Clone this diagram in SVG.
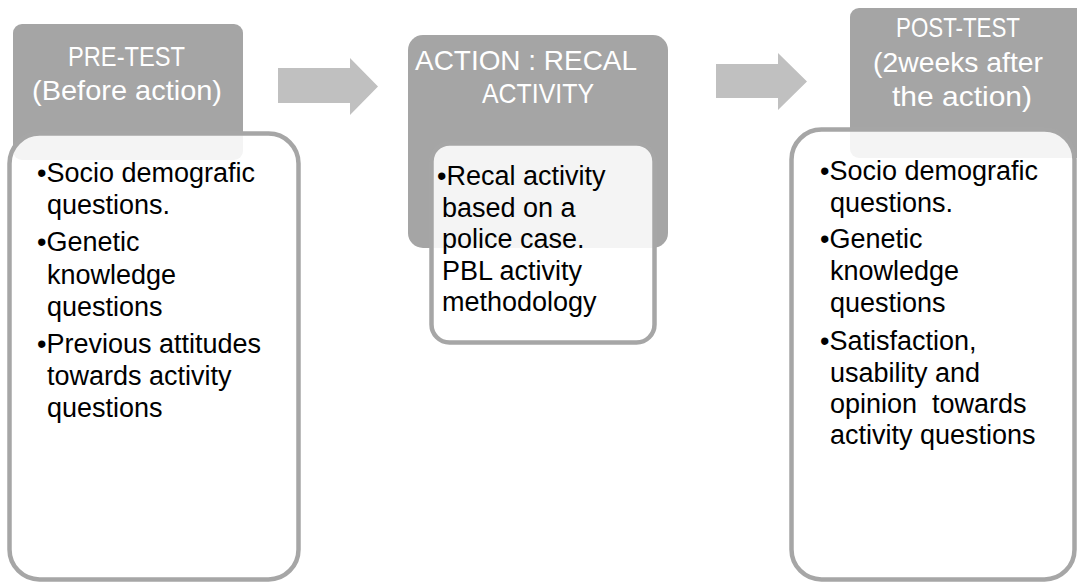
<svg xmlns="http://www.w3.org/2000/svg" width="1077" height="583" viewBox="0 0 1077 583">
  <defs>
    <style>
      .hdr { fill: #a5a5a5; }
      .body { fill: #ffffff; fill-opacity: 0.88; stroke: #a6a6a6; stroke-width: 4.5; }
      .htxt { font-family: "Liberation Sans", Arial, sans-serif; font-size: 28px; fill: #ffffff; }
      .btxt { font-family: "Liberation Sans", Arial, sans-serif; font-size: 27px; fill: #000000; }
      .arrow { fill: #c0c0c0; }
    </style>
  </defs>
  <rect width="1077" height="583" fill="#ffffff"/>

  <!-- flow arrows between stages -->
  <g id="connectors">
    <path class="arrow" d="M278,68 H350 V58 L378,86.5 L350,115 V103 H278 Z"/>
    <path class="arrow" d="M716,64 H778 V53 L807,81.5 L778,110 V98 H716 Z"/>
  </g>

  <!-- stage 1 -->
  <g id="pre-test">
    <rect class="hdr" x="13" y="24" width="230" height="136" rx="9"/>
    <text class="htxt" x="68" y="66" textLength="117" lengthAdjust="spacingAndGlyphs">PRE-TEST</text>
    <text class="htxt" x="32" y="100" textLength="190" lengthAdjust="spacingAndGlyphs">(Before action)</text>
    <rect class="body" x="9.5" y="133.5" width="289" height="446" rx="30"/>
    <text class="btxt" x="37" y="182">•Socio demografic</text>
    <text class="btxt" x="47" y="214">questions.</text>
    <text class="btxt" x="37" y="251">•Genetic</text>
    <text class="btxt" x="47" y="284">knowledge</text>
    <text class="btxt" x="47" y="316">questions</text>
    <text class="btxt" x="37" y="353">•Previous attitudes</text>
    <text class="btxt" x="47" y="385">towards activity</text>
    <text class="btxt" x="47" y="417">questions</text>
  </g>

  <!-- stage 2 -->
  <g id="action">
    <rect class="hdr" x="408" y="35" width="260" height="213" rx="15"/>
    <text class="htxt" x="415" y="70" textLength="222" lengthAdjust="spacingAndGlyphs">ACTION : RECAL</text>
    <text class="htxt" x="482" y="103" textLength="112" lengthAdjust="spacingAndGlyphs">ACTIVITY</text>
    <rect class="body" x="431.5" y="143.5" width="223" height="199" rx="18"/>
    <text class="btxt" x="437" y="185">•Recal activity</text>
    <text class="btxt" x="442" y="217">based on a</text>
    <text class="btxt" x="442" y="248">police case.</text>
    <text class="btxt" x="442" y="280">PBL activity</text>
    <text class="btxt" x="442" y="311">methodology</text>
  </g>

  <!-- stage 3 -->
  <g id="post-test">
    <rect class="hdr" x="850" y="8" width="240" height="150" rx="9"/>
    <text class="htxt" x="896" y="37" textLength="124" lengthAdjust="spacingAndGlyphs">POST-TEST</text>
    <text class="htxt" x="873" y="72" textLength="170" lengthAdjust="spacingAndGlyphs">(2weeks after</text>
    <text class="htxt" x="892" y="106" textLength="140" lengthAdjust="spacingAndGlyphs">the action)</text>
    <rect class="body" x="791.5" y="129.5" width="283" height="450" rx="30"/>
    <text class="btxt" x="820" y="180">•Socio demografic</text>
    <text class="btxt" x="830" y="212">questions.</text>
    <text class="btxt" x="820" y="248">•Genetic</text>
    <text class="btxt" x="830" y="280">knowledge</text>
    <text class="btxt" x="830" y="312">questions</text>
    <text class="btxt" x="820" y="350">•Satisfaction,</text>
    <text class="btxt" x="830" y="382">usability and</text>
    <text class="btxt" x="830" y="413" xml:space="preserve">opinion  towards</text>
    <text class="btxt" x="830" y="444">activity questions</text>
  </g>
</svg>
